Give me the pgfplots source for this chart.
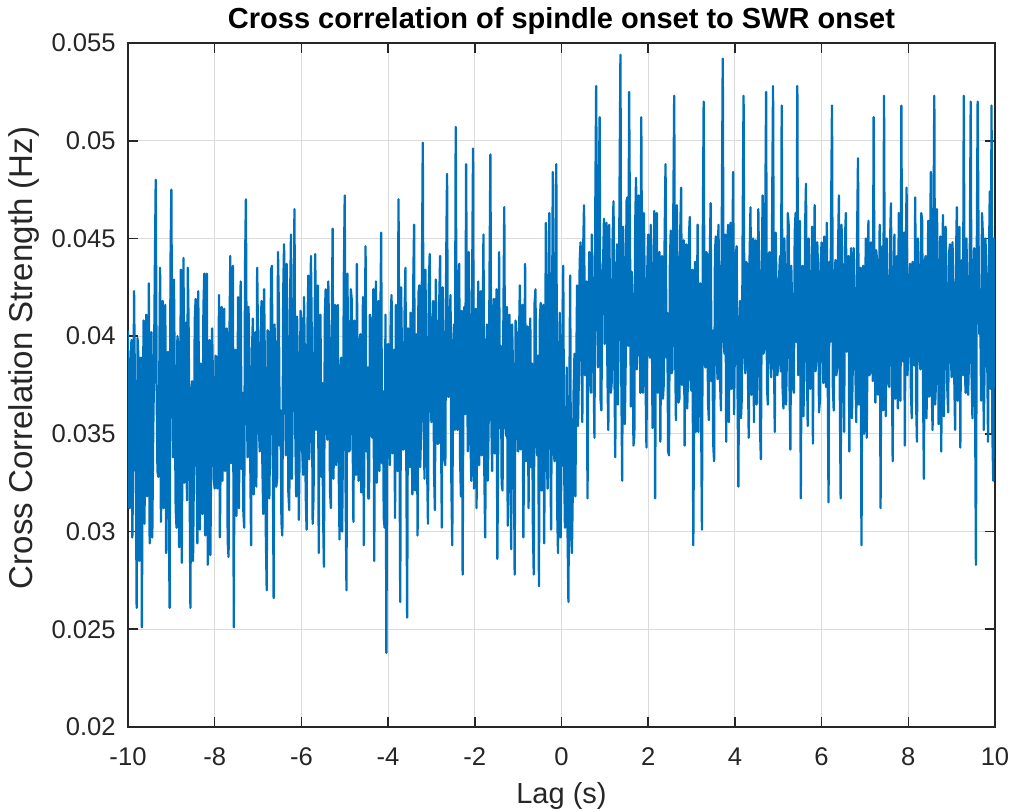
\documentclass[border=0pt]{standalone}
\usepackage{fontspec}
\setmainfont{Liberation Sans}
\usepackage{pgfplots}
\usepackage{pgfplotstable}
\pgfplotsset{compat=1.18}
\definecolor{mlblue}{RGB}{0,114,189}
\definecolor{axgray}{RGB}{38,38,38}

% cross-correlation strength, one value every 0.02 s from -10 s to 10 s
\pgfplotstableread[row sep=\\]{
y\\
0.0403\\ 0.0313\\ 0.0312\\ 0.0384\\ 0.0398\\ 0.0297\\ 0.0335\\ 0.0423\\ 0.0371\\ 0.0340\\ 0.0261\\ 0.0399\\ 0.0389\\ 0.0285\\ 0.0342\\ 0.0389\\ 0.0251\\ 0.0352\\ 0.0408\\ 0.0304\\ 0.0366\\ 0.0411\\ 0.0318\\ 0.0331\\ 0.0427\\ 0.0294\\ 0.0349\\ 0.0402\\ 0.0297\\ 0.0348\\ 0.0382\\ 0.0435\\ 0.0480\\ 0.0374\\ 0.0331\\ 0.0328\\ 0.0374\\ 0.0435\\ 0.0305\\ 0.0336\\ 0.0418\\ 0.0312\\ 0.0356\\ 0.0416\\ 0.0289\\ 0.0366\\ 0.0392\\ 0.0316\\ 0.0261\\ 0.0435\\
0.0475\\ 0.0378\\ 0.0338\\ 0.0429\\ 0.0371\\ 0.0312\\ 0.0302\\ 0.0400\\ 0.0395\\ 0.0292\\ 0.0347\\ 0.0434\\ 0.0284\\ 0.0363\\ 0.0440\\ 0.0325\\ 0.0359\\ 0.0407\\ 0.0316\\ 0.0435\\ 0.0401\\ 0.0334\\ 0.0261\\ 0.0372\\ 0.0377\\ 0.0285\\ 0.0331\\ 0.0408\\ 0.0419\\ 0.0342\\ 0.0294\\ 0.0423\\ 0.0364\\ 0.0301\\ 0.0386\\ 0.0336\\ 0.0309\\ 0.0414\\ 0.0432\\ 0.0298\\ 0.0352\\ 0.0432\\ 0.0283\\ 0.0365\\ 0.0398\\ 0.0288\\ 0.0341\\ 0.0404\\ 0.0376\\ 0.0327\\
0.0322\\ 0.0390\\ 0.0389\\ 0.0322\\ 0.0351\\ 0.0421\\ 0.0297\\ 0.0349\\ 0.0415\\ 0.0326\\ 0.0368\\ 0.0414\\ 0.0331\\ 0.0379\\ 0.0404\\ 0.0295\\ 0.0287\\ 0.0397\\ 0.0441\\ 0.0335\\ 0.0359\\ 0.0436\\ 0.0251\\ 0.0376\\ 0.0393\\ 0.0308\\ 0.0346\\ 0.0420\\ 0.0312\\ 0.0402\\ 0.0428\\ 0.0332\\ 0.0371\\ 0.0311\\ 0.0302\\ 0.0435\\ 0.0470\\ 0.0367\\ 0.0338\\ 0.0415\\ 0.0384\\ 0.0338\\ 0.0293\\ 0.0391\\ 0.0409\\ 0.0319\\ 0.0357\\ 0.0402\\ 0.0323\\ 0.0435\\
0.0396\\ 0.0353\\ 0.0341\\ 0.0397\\ 0.0418\\ 0.0335\\ 0.0309\\ 0.0424\\ 0.0377\\ 0.0299\\ 0.0270\\ 0.0403\\ 0.0402\\ 0.0317\\ 0.0353\\ 0.0434\\ 0.0436\\ 0.0342\\ 0.0266\\ 0.0406\\ 0.0385\\ 0.0323\\ 0.0327\\ 0.0443\\ 0.0414\\ 0.0344\\ 0.0362\\ 0.0305\\ 0.0298\\ 0.0421\\ 0.0447\\ 0.0385\\ 0.0339\\ 0.0437\\ 0.0391\\ 0.0320\\ 0.0311\\ 0.0419\\ 0.0452\\ 0.0327\\ 0.0367\\ 0.0395\\ 0.0465\\ 0.0350\\ 0.0318\\ 0.0410\\ 0.0381\\ 0.0306\\ 0.0344\\ 0.0413\\
0.0408\\ 0.0342\\ 0.0329\\ 0.0420\\ 0.0386\\ 0.0319\\ 0.0301\\ 0.0404\\ 0.0431\\ 0.0337\\ 0.0355\\ 0.0441\\ 0.0397\\ 0.0304\\ 0.0318\\ 0.0390\\ 0.0442\\ 0.0352\\ 0.0363\\ 0.0426\\ 0.0289\\ 0.0395\\ 0.0411\\ 0.0328\\ 0.0376\\ 0.0310\\ 0.0282\\ 0.0410\\ 0.0424\\ 0.0355\\ 0.0347\\ 0.0428\\ 0.0398\\ 0.0321\\ 0.0312\\ 0.0395\\ 0.0455\\ 0.0327\\ 0.0368\\ 0.0416\\ 0.0334\\ 0.0386\\ 0.0416\\ 0.0334\\ 0.0296\\ 0.0381\\ 0.0389\\ 0.0300\\ 0.0351\\ 0.0432\\
0.0472\\ 0.0322\\ 0.0270\\ 0.0432\\ 0.0391\\ 0.0341\\ 0.0342\\ 0.0424\\ 0.0419\\ 0.0355\\ 0.0305\\ 0.0408\\ 0.0378\\ 0.0329\\ 0.0437\\ 0.0356\\ 0.0326\\ 0.0397\\ 0.0401\\ 0.0320\\ 0.0359\\ 0.0420\\ 0.0293\\ 0.0385\\ 0.0446\\ 0.0341\\ 0.0384\\ 0.0317\\ 0.0317\\ 0.0411\\ 0.0409\\ 0.0349\\ 0.0348\\ 0.0424\\ 0.0285\\ 0.0390\\ 0.0428\\ 0.0325\\ 0.0366\\ 0.0418\\ 0.0331\\ 0.0402\\ 0.0453\\ 0.0335\\ 0.0372\\ 0.0307\\ 0.0302\\ 0.0411\\ 0.0238\\ 0.0355\\
0.0396\\ 0.0354\\ 0.0334\\ 0.0410\\ 0.0421\\ 0.0340\\ 0.0358\\ 0.0393\\ 0.0307\\ 0.0416\\ 0.0413\\ 0.0331\\ 0.0470\\ 0.0369\\ 0.0264\\ 0.0425\\ 0.0389\\ 0.0342\\ 0.0342\\ 0.0411\\ 0.0435\\ 0.0340\\ 0.0256\\ 0.0404\\ 0.0381\\ 0.0333\\ 0.0412\\ 0.0358\\ 0.0319\\ 0.0426\\ 0.0457\\ 0.0321\\ 0.0362\\ 0.0401\\ 0.0298\\ 0.0422\\ 0.0426\\ 0.0333\\ 0.0351\\ 0.0429\\ 0.0499\\ 0.0361\\ 0.0327\\ 0.0434\\ 0.0393\\ 0.0334\\ 0.0304\\ 0.0426\\ 0.0442\\ 0.0370\\
0.0356\\ 0.0399\\ 0.0418\\ 0.0331\\ 0.0311\\ 0.0429\\ 0.0397\\ 0.0345\\ 0.0345\\ 0.0417\\ 0.0441\\ 0.0355\\ 0.0302\\ 0.0425\\ 0.0387\\ 0.0337\\ 0.0334\\ 0.0437\\ 0.0483\\ 0.0369\\ 0.0369\\ 0.0408\\ 0.0421\\ 0.0325\\ 0.0293\\ 0.0395\\ 0.0406\\ 0.0352\\ 0.0507\\ 0.0387\\ 0.0352\\ 0.0428\\ 0.0437\\ 0.0339\\ 0.0318\\ 0.0413\\ 0.0278\\ 0.0399\\ 0.0415\\ 0.0360\\ 0.0488\\ 0.0392\\ 0.0341\\ 0.0443\\ 0.0399\\ 0.0349\\ 0.0326\\ 0.0429\\ 0.0496\\ 0.0322\\
0.0364\\ 0.0414\\ 0.0312\\ 0.0370\\ 0.0428\\ 0.0334\\ 0.0381\\ 0.0423\\ 0.0339\\ 0.0394\\ 0.0452\\ 0.0331\\ 0.0297\\ 0.0384\\ 0.0406\\ 0.0326\\ 0.0358\\ 0.0430\\ 0.0493\\ 0.0361\\ 0.0331\\ 0.0408\\ 0.0419\\ 0.0340\\ 0.0372\\ 0.0424\\ 0.0286\\ 0.0347\\ 0.0443\\ 0.0353\\ 0.0395\\ 0.0325\\ 0.0321\\ 0.0409\\ 0.0466\\ 0.0358\\ 0.0349\\ 0.0415\\ 0.0303\\ 0.0391\\ 0.0411\\ 0.0335\\ 0.0291\\ 0.0406\\ 0.0384\\ 0.0349\\ 0.0278\\ 0.0408\\ 0.0402\\ 0.0361\\
0.0341\\ 0.0398\\ 0.0426\\ 0.0342\\ 0.0368\\ 0.0416\\ 0.0297\\ 0.0355\\ 0.0437\\ 0.0336\\ 0.0355\\ 0.0405\\ 0.0312\\ 0.0370\\ 0.0409\\ 0.0333\\ 0.0386\\ 0.0304\\ 0.0278\\ 0.0417\\ 0.0424\\ 0.0349\\ 0.0339\\ 0.0390\\ 0.0272\\ 0.0408\\ 0.0417\\ 0.0321\\ 0.0361\\ 0.0416\\ 0.0294\\ 0.0366\\ 0.0458\\ 0.0340\\ 0.0322\\ 0.0425\\ 0.0463\\ 0.0352\\ 0.0301\\ 0.0398\\ 0.0484\\ 0.0342\\ 0.0336\\ 0.0428\\ 0.0488\\ 0.0312\\ 0.0289\\ 0.0378\\ 0.0412\\ 0.0297\\
0.0341\\ 0.0392\\ 0.0436\\ 0.0335\\ 0.0302\\ 0.0320\\ 0.0384\\ 0.0300\\ 0.0264\\ 0.0362\\ 0.0431\\ 0.0300\\ 0.0289\\ 0.0321\\ 0.0372\\ 0.0391\\ 0.0318\\ 0.0380\\ 0.0426\\ 0.0354\\ 0.0379\\ 0.0438\\ 0.0448\\ 0.0397\\ 0.0356\\ 0.0444\\ 0.0467\\ 0.0380\\ 0.0392\\ 0.0428\\ 0.0317\\ 0.0402\\ 0.0443\\ 0.0380\\ 0.0371\\ 0.0452\\ 0.0415\\ 0.0384\\ 0.0348\\ 0.0465\\ 0.0528\\ 0.0421\\ 0.0384\\ 0.0470\\ 0.0512\\ 0.0368\\ 0.0362\\ 0.0425\\ 0.0437\\ 0.0460\\
0.0396\\ 0.0433\\ 0.0458\\ 0.0380\\ 0.0352\\ 0.0457\\ 0.0421\\ 0.0371\\ 0.0377\\ 0.0450\\ 0.0469\\ 0.0388\\ 0.0338\\ 0.0424\\ 0.0447\\ 0.0365\\ 0.0403\\ 0.0477\\ 0.0544\\ 0.0379\\ 0.0326\\ 0.0456\\ 0.0432\\ 0.0355\\ 0.0386\\ 0.0469\\ 0.0471\\ 0.0395\\ 0.0525\\ 0.0450\\ 0.0364\\ 0.0433\\ 0.0418\\ 0.0344\\ 0.0349\\ 0.0456\\ 0.0481\\ 0.0383\\ 0.0397\\ 0.0472\\ 0.0436\\ 0.0371\\ 0.0512\\ 0.0415\\ 0.0371\\ 0.0463\\ 0.0424\\ 0.0376\\ 0.0343\\ 0.0435\\
0.0452\\ 0.0392\\ 0.0389\\ 0.0457\\ 0.0427\\ 0.0353\\ 0.0361\\ 0.0464\\ 0.0317\\ 0.0424\\ 0.0463\\ 0.0371\\ 0.0398\\ 0.0443\\ 0.0346\\ 0.0408\\ 0.0441\\ 0.0368\\ 0.0376\\ 0.0451\\ 0.0488\\ 0.0389\\ 0.0412\\ 0.0341\\ 0.0339\\ 0.0436\\ 0.0454\\ 0.0381\\ 0.0383\\ 0.0464\\ 0.0523\\ 0.0398\\ 0.0357\\ 0.0467\\ 0.0429\\ 0.0366\\ 0.0368\\ 0.0454\\ 0.0476\\ 0.0375\\ 0.0401\\ 0.0449\\ 0.0344\\ 0.0422\\ 0.0447\\ 0.0363\\ 0.0382\\ 0.0451\\ 0.0461\\ 0.0374\\
0.0372\\ 0.0434\\ 0.0293\\ 0.0371\\ 0.0438\\ 0.0351\\ 0.0396\\ 0.0457\\ 0.0351\\ 0.0422\\ 0.0427\\ 0.0363\\ 0.0301\\ 0.0451\\ 0.0520\\ 0.0387\\ 0.0384\\ 0.0443\\ 0.0442\\ 0.0366\\ 0.0357\\ 0.0439\\ 0.0468\\ 0.0377\\ 0.0403\\ 0.0345\\ 0.0336\\ 0.0443\\ 0.0451\\ 0.0392\\ 0.0378\\ 0.0457\\ 0.0419\\ 0.0375\\ 0.0362\\ 0.0466\\ 0.0542\\ 0.0399\\ 0.0391\\ 0.0452\\ 0.0346\\ 0.0422\\ 0.0457\\ 0.0356\\ 0.0408\\ 0.0458\\ 0.0373\\ 0.0439\\ 0.0484\\ 0.0360\\
0.0397\\ 0.0441\\ 0.0446\\ 0.0377\\ 0.0323\\ 0.0404\\ 0.0418\\ 0.0358\\ 0.0369\\ 0.0457\\ 0.0523\\ 0.0391\\ 0.0381\\ 0.0438\\ 0.0437\\ 0.0382\\ 0.0348\\ 0.0441\\ 0.0466\\ 0.0370\\ 0.0402\\ 0.0450\\ 0.0356\\ 0.0423\\ 0.0449\\ 0.0365\\ 0.0388\\ 0.0465\\ 0.0431\\ 0.0352\\ 0.0337\\ 0.0433\\ 0.0472\\ 0.0391\\ 0.0394\\ 0.0456\\ 0.0525\\ 0.0374\\ 0.0365\\ 0.0442\\ 0.0443\\ 0.0388\\ 0.0379\\ 0.0466\\ 0.0528\\ 0.0395\\ 0.0351\\ 0.0453\\ 0.0424\\ 0.0380\\
0.0386\\ 0.0430\\ 0.0441\\ 0.0382\\ 0.0518\\ 0.0374\\ 0.0363\\ 0.0450\\ 0.0429\\ 0.0365\\ 0.0392\\ 0.0463\\ 0.0457\\ 0.0377\\ 0.0342\\ 0.0436\\ 0.0415\\ 0.0374\\ 0.0371\\ 0.0453\\ 0.0463\\ 0.0397\\ 0.0528\\ 0.0380\\ 0.0399\\ 0.0459\\ 0.0317\\ 0.0412\\ 0.0436\\ 0.0359\\ 0.0381\\ 0.0456\\ 0.0478\\ 0.0388\\ 0.0354\\ 0.0450\\ 0.0422\\ 0.0373\\ 0.0403\\ 0.0456\\ 0.0345\\ 0.0430\\ 0.0467\\ 0.0382\\ 0.0389\\ 0.0448\\ 0.0433\\ 0.0361\\ 0.0367\\ 0.0438\\
0.0448\\ 0.0397\\ 0.0376\\ 0.0451\\ 0.0421\\ 0.0374\\ 0.0458\\ 0.0388\\ 0.0315\\ 0.0438\\ 0.0397\\ 0.0463\\ 0.0518\\ 0.0374\\ 0.0362\\ 0.0426\\ 0.0439\\ 0.0380\\ 0.0384\\ 0.0444\\ 0.0472\\ 0.0373\\ 0.0317\\ 0.0457\\ 0.0426\\ 0.0377\\ 0.0351\\ 0.0450\\ 0.0463\\ 0.0392\\ 0.0398\\ 0.0441\\ 0.0341\\ 0.0426\\ 0.0445\\ 0.0358\\ 0.0387\\ 0.0445\\ 0.0417\\ 0.0382\\ 0.0356\\ 0.0453\\ 0.0491\\ 0.0365\\ 0.0374\\ 0.0435\\ 0.0293\\ 0.0406\\ 0.0436\\ 0.0350\\
0.0402\\ 0.0450\\ 0.0348\\ 0.0397\\ 0.0459\\ 0.0380\\ 0.0381\\ 0.0448\\ 0.0427\\ 0.0377\\ 0.0512\\ 0.0426\\ 0.0366\\ 0.0444\\ 0.0438\\ 0.0370\\ 0.0393\\ 0.0457\\ 0.0312\\ 0.0420\\ 0.0446\\ 0.0362\\ 0.0523\\ 0.0391\\ 0.0359\\ 0.0450\\ 0.0421\\ 0.0376\\ 0.0374\\ 0.0448\\ 0.0468\\ 0.0389\\ 0.0336\\ 0.0426\\ 0.0452\\ 0.0368\\ 0.0398\\ 0.0441\\ 0.0363\\ 0.0463\\ 0.0431\\ 0.0367\\ 0.0518\\ 0.0398\\ 0.0387\\ 0.0453\\ 0.0344\\ 0.0435\\ 0.0476\\ 0.0380\\
0.0392\\ 0.0426\\ 0.0437\\ 0.0373\\ 0.0358\\ 0.0438\\ 0.0414\\ 0.0385\\ 0.0471\\ 0.0367\\ 0.0346\\ 0.0450\\ 0.0428\\ 0.0389\\ 0.0383\\ 0.0463\\ 0.0459\\ 0.0376\\ 0.0327\\ 0.0438\\ 0.0441\\ 0.0358\\ 0.0401\\ 0.0459\\ 0.0369\\ 0.0436\\ 0.0484\\ 0.0374\\ 0.0352\\ 0.0448\\ 0.0523\\ 0.0365\\ 0.0378\\ 0.0465\\ 0.0433\\ 0.0355\\ 0.0396\\ 0.0451\\ 0.0341\\ 0.0423\\ 0.0462\\ 0.0359\\ 0.0388\\ 0.0456\\ 0.0423\\ 0.0373\\ 0.0361\\ 0.0442\\ 0.0447\\ 0.0391\\
0.0379\\ 0.0448\\ 0.0418\\ 0.0380\\ 0.0352\\ 0.0438\\ 0.0466\\ 0.0367\\ 0.0397\\ 0.0456\\ 0.0343\\ 0.0433\\ 0.0439\\ 0.0380\\ 0.0523\\ 0.0397\\ 0.0371\\ 0.0450\\ 0.0427\\ 0.0370\\ 0.0389\\ 0.0444\\ 0.0520\\ 0.0380\\ 0.0358\\ 0.0429\\ 0.0445\\ 0.0373\\ 0.0283\\ 0.0442\\ 0.0520\\ 0.0450\\ 0.0401\\ 0.0415\\ 0.0367\\ 0.0463\\ 0.0452\\ 0.0352\\ 0.0384\\ 0.0450\\ 0.0431\\ 0.0392\\ 0.0346\\ 0.0436\\ 0.0474\\ 0.0373\\ 0.0518\\ 0.0350\\ 0.0326\\ 0.0450\\ 0.0392\\
}\corrdata

\pgfplotsset{every axis title shift=0pt}

\begin{document}
\begin{tikzpicture}
\useasboundingbox (-64pt,-42pt) rectangle (442.5pt,363.5pt);
\begin{axis}[
  at={(0,0)}, anchor=south west,
  scale only axis, width=433.5pt, height=342pt,
  xmin=-10, xmax=10, ymin=0.02, ymax=0.055,
  xtick={-10,-8,-6,-4,-2,0,2,4,6,8,10},
  xticklabels={-10,-8,-6,-4,-2,0,2,4,6,8,10},
  ytick={0.02,0.025,0.03,0.035,0.04,0.045,0.05,0.055},
  yticklabels={0.02,0.025,0.03,0.035,0.04,0.045,0.05,0.055},
  scaled y ticks=false, scaled x ticks=false,
  tick align=inside, major tick length=5pt,
  tick style={axgray, line width=0.8pt},
  axis line style={axgray, line width=0.8pt},
  grid=major, major grid style={black!14, line width=0.5pt},
  ticklabel style={font=\fontsize{12.8}{15}\selectfont, text=axgray},
  xticklabel style={anchor=base, yshift=-19pt},
  yticklabel style={anchor=east, inner sep=0pt, xshift=-6pt},
  title={Cross correlation of spindle onset to SWR onset},
  title style={font=\fontsize{14.5}{17}\selectfont\bfseries, at={(axis description cs:0.5,1.0205)}, anchor=base},
  xlabel={Lag (s)},
  xlabel style={font=\fontsize{14.5}{17}\selectfont, text=axgray, at={(axis description cs:0.5,-0.1111)}, anchor=base},
  ylabel={Cross Correlation Strength (Hz)},
  ylabel style={font=\fontsize{16.5}{19}\selectfont, text=axgray, at={(axis description cs:-0.1096,0.5395)}, anchor=base},
]
\addplot[mlblue, line width=1.15pt, line join=round, mark=none]
  table[x expr={-10+0.02*\coordindex}, y=y] {\corrdata};
\end{axis}
\end{tikzpicture}
\end{document}
